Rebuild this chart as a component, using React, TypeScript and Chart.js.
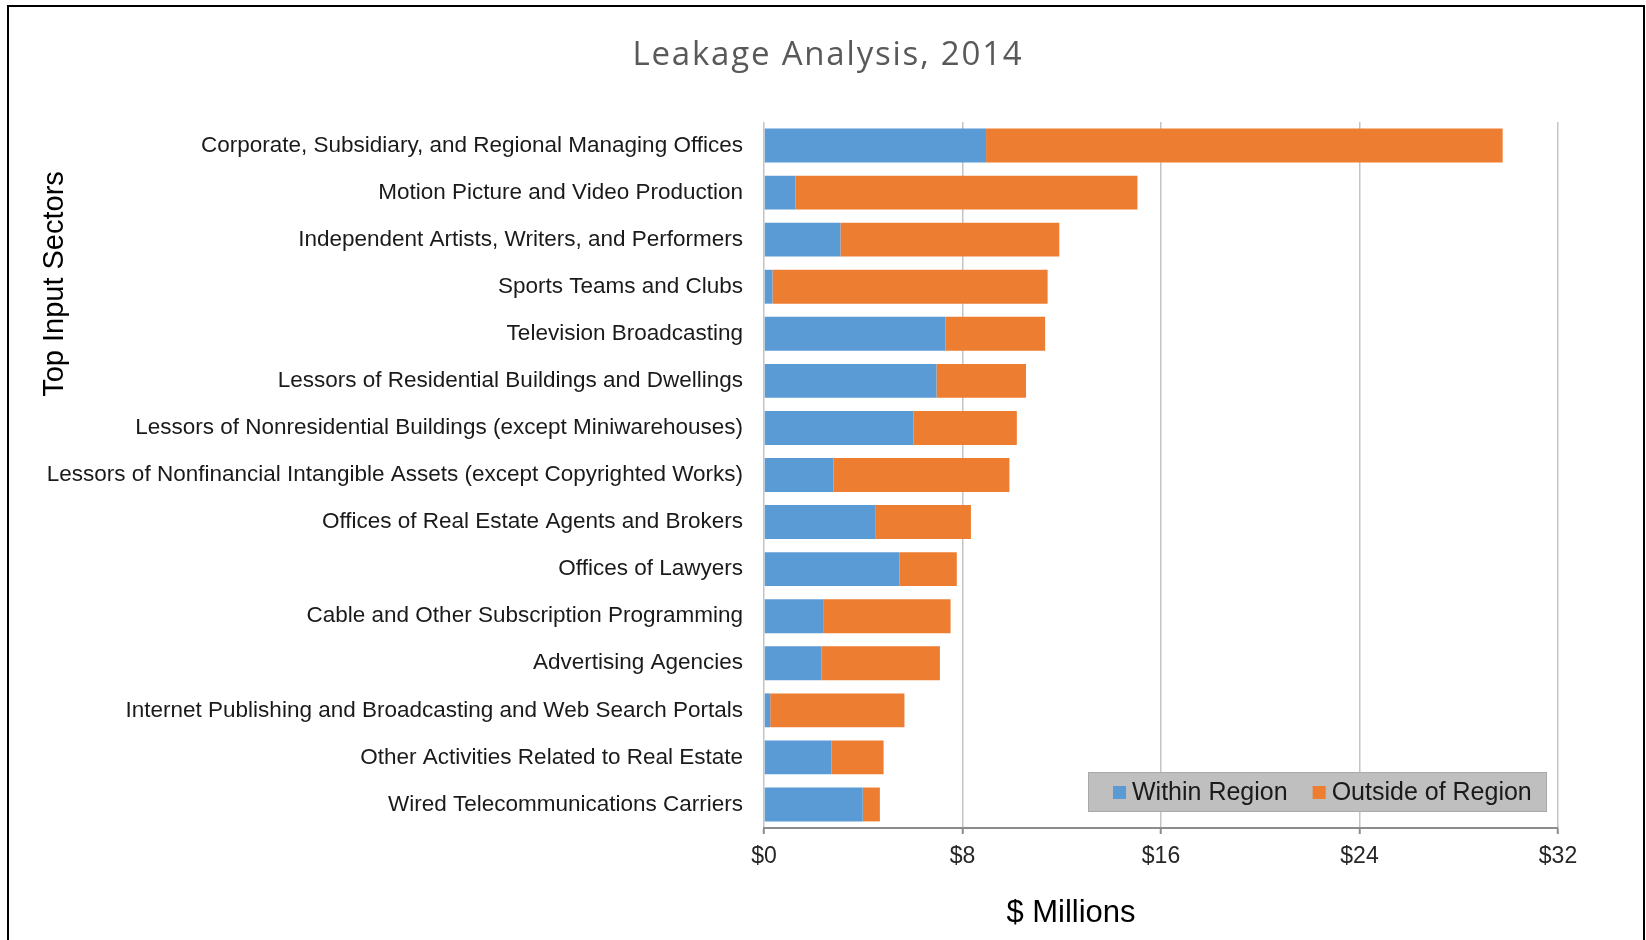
import React, { useEffect, useRef } from "react";
import { Chart, registerables } from "chart.js";

Chart.register(...registerables);

const chartTitle = "Leakage Analysis, 2014";
const yAxisTitle = "Top Input Sectors";
const xAxisTitle = "$ Millions";

const categories = [
  "Corporate, Subsidiary, and Regional Managing Offices",
  "Motion Picture and Video Production",
  "Independent Artists, Writers, and Performers",
  "Sports Teams and Clubs",
  "Television Broadcasting",
  "Lessors of Residential Buildings and Dwellings",
  "Lessors of Nonresidential Buildings (except Miniwarehouses)",
  "Lessors of Nonfinancial Intangible Assets (except Copyrighted Works)",
  "Offices of Real Estate Agents and Brokers",
  "Offices of Lawyers",
  "Cable and Other Subscription Programming",
  "Advertising Agencies",
  "Internet Publishing and Broadcasting and Web Search Portals",
  "Other Activities Related to Real Estate",
  "Wired Telecommunications Carriers",
];

const withinRegion = [8.95, 1.27, 3.08, 0.34, 7.31, 6.95, 6.02, 2.8, 4.48, 5.46, 2.41, 2.31, 0.25, 2.72, 3.98];
const outsideRegion = [20.82, 13.78, 8.82, 11.09, 4.02, 3.61, 4.17, 7.09, 3.86, 2.31, 5.11, 4.78, 5.41, 2.1, 0.69];

const seriesLabels = ["Within Region", "Outside of Region"];
const seriesColors = ["#5B9BD5", "#ED7D31"];
const xTickValues = [0, 8, 16, 24, 32];

const SANS = "'Liberation Sans', Arial, sans-serif";

const decorPlugin = {
  id: "decor",
  beforeDraw(chart: any) {
    const { ctx, width, height } = chart;
    ctx.save();
    ctx.fillStyle = "#ffffff";
    ctx.fillRect(0, 0, width, height);
    ctx.restore();
  },
  afterDraw(chart: any) {
    const { ctx, chartArea } = chart;
    ctx.save();
    // frame
    ctx.strokeStyle = "#000000";
    ctx.lineWidth = 2;
    ctx.strokeRect(8, 6, 1636, 1000);

    // title
    ctx.fillStyle = "#595959";
    ctx.font = "33px 'Open Sans', sans-serif";
    ctx.textAlign = "center";
    ctx.textBaseline = "alphabetic";
    try {
      (ctx as any).letterSpacing = "1.8px";
    } catch (e) {}
    ctx.fillText(chartTitle, 828, 65);
    try {
      (ctx as any).letterSpacing = "0px";
    } catch (e) {}

    // x axis title
    ctx.fillStyle = "#000000";
    ctx.font = `31px ${SANS}`;
    ctx.fillText(xAxisTitle, 1071, 922);

    // y axis title
    ctx.save();
    ctx.translate(63, 284);
    ctx.rotate(-Math.PI / 2);
    ctx.font = `29px ${SANS}`;
    ctx.fillText(yAxisTitle, 0, 0);
    ctx.restore();

    // legend inside the plot area
    const boxRight = chartArea.right - 11;
    const boxBottom = chartArea.bottom - 16;
    const boxW = 459;
    const boxH = 40;
    const boxX = boxRight - boxW;
    const boxY = boxBottom - boxH;
    ctx.fillStyle = "#BFBFBF";
    ctx.fillRect(boxX, boxY, boxW, boxH);
    ctx.strokeStyle = "#A9A9A9";
    ctx.lineWidth = 1;
    ctx.strokeRect(boxX + 0.5, boxY + 0.5, boxW - 1, boxH - 1);

    ctx.font = `25px ${SANS}`;
    ctx.textAlign = "left";
    ctx.textBaseline = "alphabetic";
    let x = boxX + 25;
    chart.data.datasets.forEach((ds: any) => {
      ctx.fillStyle = ds.backgroundColor;
      ctx.fillRect(x, boxY + 14, 13, 13);
      ctx.fillStyle = "#1a1a1a";
      ctx.fillText(ds.label, x + 19, boxY + 28);
      x += 19 + ctx.measureText(ds.label).width + 25;
    });
    ctx.restore();
  },
};

export default function App() {
  const canvasRef = useRef<HTMLCanvasElement | null>(null);

  useEffect(() => {
    if (!canvasRef.current) return;
    const chart = new Chart(canvasRef.current, {
      type: "bar",
      data: {
        labels: categories,
        datasets: [
          {
            label: seriesLabels[0],
            data: withinRegion,
            backgroundColor: seriesColors[0],
            barPercentage: 0.72,
            categoryPercentage: 1,
          },
          {
            label: seriesLabels[1],
            data: outsideRegion,
            backgroundColor: seriesColors[1],
            barPercentage: 0.72,
            categoryPercentage: 1,
          },
        ],
      },
      options: {
        indexAxis: "y",
        responsive: false,
        animation: false,
        layout: { padding: { left: 0, right: 88, top: 122, bottom: 0 } },
        plugins: {
          legend: { display: false },
          title: { display: false },
          tooltip: { enabled: false },
        },
        scales: {
          x: {
            stacked: true,
            min: 0,
            max: 32,
            afterBuildTicks: (scale: any) => {
              scale.ticks = xTickValues.map((v) => ({ value: v }));
            },
            afterFit: (scale: any) => {
              scale.height = 112;
            },
            ticks: {
              callback: (v: any) => "$" + v,
              font: { family: SANS, size: 23 },
              color: "#262626",
              padding: 9,
              maxRotation: 0,
            },
            grid: {
              color: "#C4C4C4",
              lineWidth: 1.5,
              drawTicks: true,
              tickLength: 6,
              tickColor: "#8C8C8C",
              tickWidth: 2,
            },
            border: { display: true, color: "#8C8C8C", width: 2 },
          },
          y: {
            stacked: true,
            afterFit: (scale: any) => {
              scale.width = 764;
            },
            ticks: {
              font: { family: SANS, size: 22.5 },
              color: "#1a1a1a",
              padding: 21,
              autoSkip: false,
            },
            grid: { display: false, drawTicks: false },
            border: { display: false },
          },
        },
      },
      plugins: [decorPlugin],
    } as any);
    return () => chart.destroy();
  }, []);

  return (
    <div style={{ position: "fixed", left: 0, top: 0, width: 1646, height: 940, background: "#fff" }}>
      <canvas ref={canvasRef} width={1646} height={940} style={{ display: "block" }} />
    </div>
  );
}
